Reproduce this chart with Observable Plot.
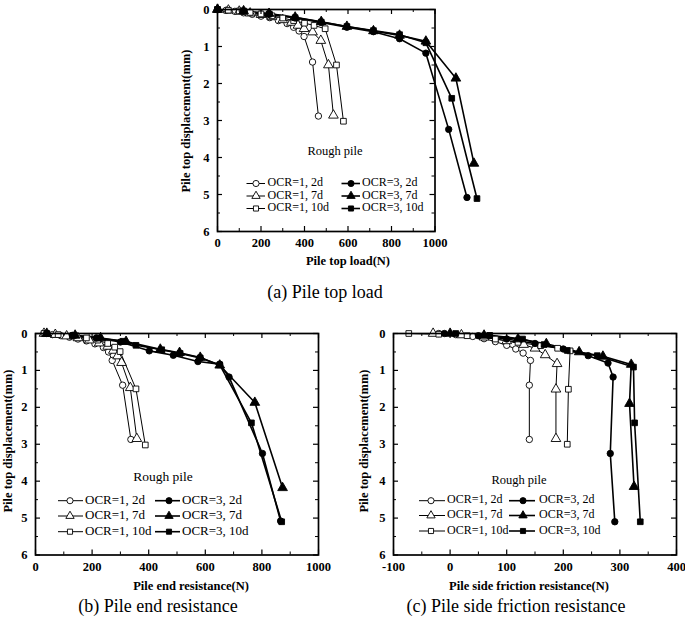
<!DOCTYPE html>
<html><head><meta charset="utf-8">
<script src="https://cdn.jsdelivr.net/npm/d3@7"></script>
<script src="https://cdn.jsdelivr.net/npm/@observablehq/plot@0.6"></script>
<style>
html,body{margin:0;padding:0;background:#fff;}
#wrap{position:relative;width:685px;height:620px;overflow:hidden;font-family:"Liberation Serif","DejaVu Serif",serif;}
.panel{position:absolute;}
#overlay{position:absolute;left:0;top:0;pointer-events:none;}
</style></head>
<body><div id="wrap"></div>
<script>
// ---------- DATA: [x, displacement(mm)] ----------
// (a) Pile top load (N)
const topOCR1_2d  = [[0,0],[40,0.02],[80,0.05],[120,0.09],[160,0.13],[200,0.18],[240,0.22],[280,0.3],[320,0.38],[350,0.48],[375,0.58],[398,0.73],[437,1.42],[464,2.88]];
const topOCR1_7d  = [[0,0],[50,0.02],[100,0.05],[150,0.1],[200,0.14],[250,0.2],[300,0.28],[340,0.35],[370,0.43],[398,0.52],[437,0.61],[475,0.84],[510,1.5],[533,2.86]];
const topOCR1_10d = [[0,0],[50,0.02],[100,0.04],[150,0.08],[200,0.12],[250,0.17],[300,0.23],[350,0.3],[400,0.37],[444,0.43],[495,0.52],[547,1.5],[579,3.02]];
const topOCR3_2d  = [[0,0],[120,0.05],[237,0.13],[357,0.23],[477,0.35],[595,0.48],[717,0.6],[837,0.79],[958,1.18],[1063,3.24],[1147,5.08]];
const topOCR3_7d  = [[0,0],[120,0.04],[237,0.11],[357,0.21],[477,0.33],[595,0.46],[717,0.58],[837,0.7],[958,0.86],[1096,1.86],[1179,4.16]];
const topOCR3_10d = [[0,0],[120,0.04],[237,0.12],[357,0.22],[477,0.34],[595,0.46],[717,0.57],[837,0.68],[958,0.9],[1077,2.4],[1193,5.11]];
// (b) Pile end resistance (N)
const endOCR1_2d  = [[30,0],[60,0.03],[90,0.06],[120,0.1],[150,0.15],[180,0.2],[210,0.28],[240,0.38],[258,0.5],[271,0.73],[308,1.4],[337,2.87]];
const endOCR1_7d  = [[30,0],[70,0.03],[110,0.07],[150,0.12],[190,0.18],[225,0.26],[255,0.35],[275,0.46],[290,0.61],[304,0.79],[335,1.47],[358,2.85]];
const endOCR1_10d = [[30,0],[80,0.03],[130,0.07],[180,0.12],[220,0.18],[255,0.27],[280,0.37],[299,0.49],[355,1.5],[388,3.02]];
const endOCR3_2d  = [[40,0],[130,0.05],[215,0.12],[300,0.23],[402,0.47],[487,0.59],[574,0.76],[651,0.83],[684,1.18],[802,3.25],[866,5.08]];
const endOCR3_7d  = [[40,0],[140,0.05],[230,0.12],[320,0.22],[441,0.43],[509,0.52],[582,0.65],[651,0.86],[775,1.87],[873,4.18]];
const endOCR3_10d = [[40,0],[135,0.05],[220,0.12],[310,0.21],[355,0.32],[446,0.44],[511,0.54],[582,0.66],[651,0.85],[763,2.42],[870,5.1]];
// (c) Pile side friction resistance (N)
const sideOCR1_2d  = [[-20,0],[10,0.03],[40,0.08],[60,0.14],[80,0.22],[100,0.32],[116,0.42],[129,0.53],[142,0.73],[140,1.4],[140,2.87]];
const sideOCR1_7d  = [[-30,0],[20,0.04],[60,0.1],[100,0.2],[130,0.3],[150,0.4],[168,0.58],[189,0.82],[187,1.51],[187,2.85]];
const sideOCR1_10d = [[-73,0],[-20,0.02],[30,0.06],[80,0.15],[120,0.24],[160,0.33],[190,0.4],[212,0.47],[209,1.51],[207,3.0]];
const sideOCR3_2d  = [[-10,0],[50,0.06],[100,0.15],[150,0.27],[200,0.42],[244,0.6],[279,0.8],[288,1.18],[283,3.25],[291,5.1]];
const sideOCR3_7d  = [[0,0],[60,0.05],[120,0.15],[170,0.28],[228,0.5],[270,0.62],[320,0.84],[317,1.9],[325,4.15]];
const sideOCR3_10d = [[10,0],[70,0.05],[128,0.15],[166,0.3],[207,0.46],[260,0.6],[324,0.91],[326,2.42],[336,5.1]];

// ---------- labels / ticks ----------
const seriesNames = ["OCR=1, 2d","OCR=1, 7d","OCR=1, 10d","OCR=3, 2d","OCR=3, 7d","OCR=3, 10d"];
const seriesSymbols = ["circle","triangle","square","circle","triangle","square"];
const seriesFilled = [false,false,false,true,true,true];
const yTicks = [0,1,2,3,4,5,6];
const yMinor = [0.5,1.5,2.5,3.5,4.5,5.5];
const xTicksA = [0,200,400,600,800,1000], xMinorA = [100,300,500,700,900];
const xTicksB = [0,200,400,600,800,1000], xMinorB = [100,300,500,700,900];
const xTicksC = [-100,0,100,200,300,400], xMinorC = [-50,50,150,250,350];
const yTitle = "Pile top displacement(mm)";
const xTitles = ["Pile top load(N)","Pile end resistance(N)","Pile side friction resistance(N)"];
const captions = ["(a) Pile top load","(b) Pile end resistance","(c) Pile side friction resistance"];
const annotation = "Rough pile";

const FONT = '"Liberation Serif","DejaVu Serif",serif';
const wrap = document.getElementById("wrap");

function panel({series, xDomain, xTicks, xMinor, fl, fr, ft, fb}) {
  const mL = 40, mR = 14, mT = 8, mB = 24;
  const W = fr - fl, H = fb - ft;
  const marks = [];
  series.forEach((s, i) => {
    marks.push(Plot.line(s, {x: d => d[0], y: d => d[1], stroke: "black", strokeWidth: seriesFilled[i] ? 1.6 : 1}));
  });
  series.forEach((s, i) => {
    marks.push(Plot.dot(s, {x: d => d[0], y: d => d[1], symbol: seriesSymbols[i], r: seriesSymbols[i]==="triangle" ? 3.6 : 3.2,
      fill: seriesFilled[i] ? "black" : "white", stroke: "black", strokeWidth: 0.9}));
  });
  marks.push(Plot.ruleX(xTicks, {insetTop: H - 5, stroke: "black", strokeWidth: 1.2}));
  marks.push(Plot.ruleX(xTicks, {insetBottom: H - 5, stroke: "black", strokeWidth: 1.2}));
  marks.push(Plot.ruleX(xMinor, {insetTop: H - 3, stroke: "black", strokeWidth: 1}));
  marks.push(Plot.ruleX(xMinor, {insetBottom: H - 3, stroke: "black", strokeWidth: 1}));
  marks.push(Plot.ruleY(yTicks, {insetRight: W - 5, stroke: "black", strokeWidth: 1.2}));
  marks.push(Plot.ruleY(yTicks, {insetLeft: W - 5, stroke: "black", strokeWidth: 1.2}));
  marks.push(Plot.ruleY(yMinor, {insetRight: W - 3, stroke: "black", strokeWidth: 1}));
  marks.push(Plot.ruleY(yMinor, {insetLeft: W - 3, stroke: "black", strokeWidth: 1}));
  marks.push(Plot.axisX({ticks: xTicks, tickSize: 0, tickPadding: 7, fontWeight: "bold", fontSize: 12.5, label: null, tickFormat: d => String(d)}));
  marks.push(Plot.axisY({ticks: yTicks, tickSize: 0, tickPadding: 8, fontWeight: "bold", fontSize: 12.5, label: null, tickFormat: d => String(d)}));
  marks.push(Plot.frame({stroke: "black", strokeWidth: 1.7}));
  const p = Plot.plot({
    width: W + mL + mR, height: H + mT + mB,
    marginLeft: mL, marginRight: mR, marginTop: mT, marginBottom: mB,
    style: {fontFamily: FONT, fontSize: "12.5px", color: "black", background: "transparent", overflow: "visible"},
    x: {domain: xDomain},
    y: {domain: [0, 6], reverse: true},
    marks
  });
  p.classList.add("panel");
  p.style.left = (fl - mL) + "px";
  p.style.top = (ft - mT) + "px";
  wrap.appendChild(p);
}

panel({series: [topOCR1_2d, topOCR1_7d, topOCR1_10d, topOCR3_2d, topOCR3_7d, topOCR3_10d],
  xDomain: [0, 1000], xTicks: xTicksA, xMinor: xMinorA, fl: 216.5, fr: 434, ft: 9, fb: 231});
panel({series: [endOCR1_2d, endOCR1_7d, endOCR1_10d, endOCR3_2d, endOCR3_7d, endOCR3_10d],
  xDomain: [0, 1000], xTicks: xTicksB, xMinor: xMinorB, fl: 34.5, fr: 317.5, ft: 332.5, fb: 554});
panel({series: [sideOCR1_2d, sideOCR1_7d, sideOCR1_10d, sideOCR3_2d, sideOCR3_7d, sideOCR3_10d],
  xDomain: [-100, 400], xTicks: xTicksC, xMinor: xMinorC, fl: 393, fr: 676, ft: 332.5, fb: 554});

// ---------- overlay: titles, captions, legends ----------
const svg = d3.select(wrap).append("svg").attr("id", "overlay").attr("width", 685).attr("height", 620)
  .style("font-family", FONT);
function yLabel(x, y) {
  svg.append("text").attr("transform", `translate(${x},${y}) rotate(-90)`).attr("text-anchor", "middle")
    .attr("dominant-baseline", "middle").attr("font-weight", "bold").attr("font-size", 12.5).text(yTitle);
}
function xLabel(x, y, t) {
  svg.append("text").attr("x", x).attr("y", y).attr("text-anchor", "middle").attr("dominant-baseline", "middle")
    .attr("font-weight", "bold").attr("font-size", 12.5).text(t);
}
function caption(x, y, t) {
  svg.append("text").attr("x", x).attr("y", y).attr("text-anchor", "middle").attr("dominant-baseline", "middle")
    .attr("font-size", 18).text(t);
}
function legend({cx, cy, rows, c1, c2, fs}) {
  svg.append("text").attr("x", cx).attr("y", cy).attr("text-anchor", "middle").attr("dominant-baseline", "middle")
    .attr("font-size", fs + 0.5).text(annotation);
  seriesNames.forEach((name, i) => {
    const col = i < 3 ? c1 : c2, ry = rows[i % 3];
    svg.append("line").attr("x1", col[0]).attr("x2", col[1]).attr("y1", ry).attr("y2", ry)
      .attr("stroke", "black").attr("stroke-width", seriesFilled[i] ? 1.6 : 1);
    const sym = {circle: d3.symbolCircle, triangle: d3.symbolTriangle, square: d3.symbolSquare}[seriesSymbols[i]];
    svg.append("path").attr("d", d3.symbol(sym, seriesSymbols[i]==="square" ? 26 : 30)())
      .attr("transform", `translate(${col[2]},${ry})`)
      .attr("fill", seriesFilled[i] ? "black" : "white").attr("stroke", "black").attr("stroke-width", 0.9);
    svg.append("text").attr("x", col[3]).attr("y", ry).attr("dominant-baseline", "middle").attr("font-size", fs).text(name);
  });
}
yLabel(187, 121); xLabel(348, 262, xTitles[0]); caption(325, 294, captions[0]);
yLabel(9, 441); xLabel(191, 587, xTitles[1]); caption(158, 608, captions[1]);
yLabel(365, 441); xLabel(529, 587, xTitles[2]); caption(516, 608, captions[2]);
legend({cx: 335, cy: 152, rows: [183.5, 196, 208.5], c1: [246.5, 265, 256, 267.5], c2: [341.5, 360, 351, 362], fs: 12});
legend({cx: 163, cy: 478, rows: [500.7, 516, 531.7], c1: [58, 83, 70, 85], c2: [155, 180, 169, 182], fs: 13});
legend({cx: 519, cy: 481.5, rows: [500.7, 515.5, 531], c1: [419, 445, 431, 447], c2: [509, 535, 523, 539], fs: 12});
</script></body></html>
